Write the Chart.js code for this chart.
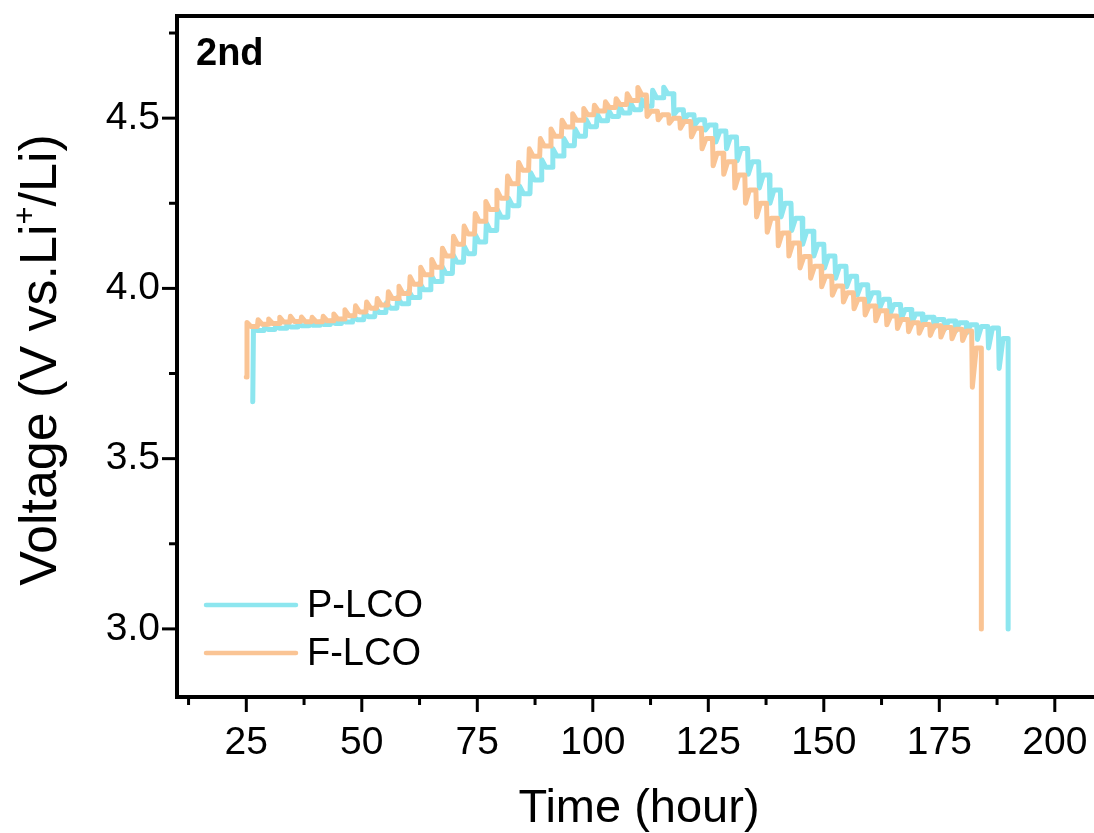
<!DOCTYPE html>
<html>
<head>
<meta charset="utf-8">
<script src="https://cdn.jsdelivr.net/npm/chart.js@4.4.1/dist/chart.umd.min.js"></script>
<style>
  html, body { margin: 0; padding: 0; background: #fff; overflow: hidden; }
  #wrap { position: relative; width: 1104px; height: 833px; }
</style>
</head>
<body>
<div id="wrap"><canvas id="gittChart"></canvas></div>
<script>
// F-LCO (orange) charge steps: pulse start time, voltage at pulse end, relaxed voltage
const fStart = 3.74;
const fTimesC = [25.0, 27.4, 29.7, 32.1, 34.4, 36.8, 39.1, 41.5, 43.8, 46.2, 48.5, 50.9, 53.2, 55.6, 57.9, 60.3, 62.6, 65.0, 67.3, 69.7, 72.0, 74.4, 76.7, 79.1, 81.4, 83.8, 86.1, 88.5, 90.8, 93.2, 95.5, 97.9, 100.2, 102.6, 104.9, 107.3, 109.6];
const fPeakC = [3.900, 3.908, 3.910, 3.915, 3.918, 3.916, 3.915, 3.918, 3.925, 3.937, 3.949, 3.960, 3.970, 3.990, 4.006, 4.034, 4.062, 4.085, 4.118, 4.153, 4.183, 4.220, 4.255, 4.288, 4.330, 4.370, 4.410, 4.440, 4.468, 4.494, 4.513, 4.528, 4.538, 4.548, 4.557, 4.572, 4.590];
const fRestC = [3.888, 3.895, 3.897, 3.901, 3.903, 3.902, 3.902, 3.905, 3.910, 3.920, 3.931, 3.942, 3.951, 3.970, 3.985, 4.012, 4.040, 4.062, 4.095, 4.130, 4.160, 4.197, 4.232, 4.265, 4.307, 4.347, 4.388, 4.418, 4.447, 4.474, 4.494, 4.510, 4.521, 4.531, 4.540, 4.552, 4.568];
// F-LCO discharge steps
const fTimesD = [111.6, 114.0, 116.4, 118.8, 121.2, 123.5, 125.9, 128.2, 130.6, 132.9, 135.3, 137.6, 140.0, 142.3, 144.7, 147.0, 149.4, 151.7, 154.1, 156.4, 158.8, 161.1, 163.5, 165.8, 168.2, 170.5, 172.9, 175.2, 177.6, 179.9, 182.0];
const fLowD = [4.505, 4.495, 4.485, 4.470, 4.445, 4.410, 4.360, 4.335, 4.295, 4.250, 4.210, 4.165, 4.125, 4.095, 4.060, 4.030, 4.005, 3.980, 3.960, 3.940, 3.922, 3.905, 3.893, 3.882, 3.873, 3.868, 3.862, 3.857, 3.852, 3.847, 3.710];
const fRestD = [4.520, 4.510, 4.500, 4.490, 4.470, 4.440, 4.397, 4.372, 4.333, 4.289, 4.250, 4.206, 4.163, 4.133, 4.094, 4.065, 4.036, 4.007, 3.987, 3.968, 3.948, 3.934, 3.919, 3.909, 3.899, 3.894, 3.890, 3.885, 3.880, 3.875, 3.825];
const fCutoff = [184.1, 3.0];

// P-LCO (cyan)
const pStart = 3.667;
const pTimesC = [26.4, 28.8, 31.2, 33.6, 36.0, 38.4, 40.8, 43.2, 45.6, 48.0, 50.4, 52.8, 55.2, 57.6, 60.0, 62.4, 64.8, 67.2, 69.6, 72.0, 74.4, 76.8, 79.2, 81.6, 84.0, 86.4, 88.8, 91.2, 93.6, 96.0, 98.4, 100.8, 103.2, 105.6, 108.0, 110.4, 112.8, 115.2];
const pPeakC = [3.882, 3.885, 3.889, 3.893, 3.896, 3.898, 3.901, 3.904, 3.909, 3.918, 3.929, 3.943, 3.958, 3.973, 3.992, 4.016, 4.041, 4.065, 4.099, 4.124, 4.158, 4.192, 4.231, 4.265, 4.300, 4.340, 4.378, 4.410, 4.440, 4.468, 4.496, 4.512, 4.525, 4.535, 4.545, 4.555, 4.582, 4.591];
const pRestC = [3.876, 3.879, 3.883, 3.887, 3.890, 3.892, 3.894, 3.897, 3.901, 3.908, 3.917, 3.929, 3.942, 3.955, 3.973, 3.996, 4.020, 4.044, 4.077, 4.102, 4.136, 4.170, 4.209, 4.243, 4.278, 4.318, 4.356, 4.389, 4.419, 4.447, 4.475, 4.492, 4.505, 4.515, 4.525, 4.535, 4.560, 4.572];
const pTimesD = [117.4, 119.6, 121.9, 124.2, 126.5, 128.8, 131.1, 133.5, 135.9, 138.2, 140.6, 142.9, 145.3, 147.7, 150.0, 152.4, 154.8, 157.1, 159.5, 161.9, 164.2, 166.6, 168.9, 171.3, 173.7, 176.0, 178.4, 180.8, 183.1, 185.5, 187.8];
const pLowD = [4.510, 4.495, 4.480, 4.465, 4.430, 4.410, 4.375, 4.335, 4.295, 4.250, 4.210, 4.170, 4.130, 4.095, 4.060, 4.030, 4.005, 3.980, 3.960, 3.940, 3.925, 3.910, 3.900, 3.892, 3.885, 3.880, 3.875, 3.870, 3.850, 3.825, 3.765];
const pRestD = [4.525, 4.510, 4.495, 4.480, 4.462, 4.445, 4.411, 4.372, 4.333, 4.289, 4.250, 4.206, 4.168, 4.130, 4.095, 4.065, 4.036, 4.011, 3.987, 3.968, 3.953, 3.938, 3.925, 3.915, 3.909, 3.904, 3.899, 3.893, 3.888, 3.884, 3.853];
const pCutoff = [189.9, 3.0];

// pulse / relaxation length inside one GITT step (hours)
const pulseH = 0.15;
const relaxH = 1.0;

const xTicks = [25, 50, 75, 100, 125, 150, 175, 200];
const xMinor = [12.5, 37.5, 62.5, 87.5, 112.5, 137.5, 162.5, 187.5];
const yTicks = [3.0, 3.5, 4.0, 4.5];
const yMinor = [3.25, 3.75, 4.25, 4.75];

const FONT = "'Liberation Sans', Arial, sans-serif";
const cyan = 'rgb(141,230,239)';
const orange = 'rgb(250,196,148)';

function buildSeries(start, tC, peakC, restC, tD, lowD, restD, cutoff) {
    const pts = [{ x: tC[0], y: start }];
    let prev = start;
    tC.forEach((t, i) => {
        if (i > 0) pts.push({ x: t, y: prev });
        pts.push({ x: t + pulseH, y: peakC[i] });
        pts.push({ x: t + relaxH, y: restC[i] });
        prev = restC[i];
    });
    tD.forEach((t, i) => {
        pts.push({ x: t, y: prev });
        pts.push({ x: t + pulseH, y: lowD[i] });
        pts.push({ x: t + relaxH, y: restD[i] });
        prev = restD[i];
    });
    pts.push({ x: cutoff[0], y: prev });
    pts.push({ x: cutoff[0], y: cutoff[1] });
    return pts;
}

const frame = {
    id: 'frame',
    afterDraw(chart) {
        const { ctx, chartArea: a, scales: { x, y } } = chart;
        ctx.save();
        ctx.strokeStyle = '#000';
        ctx.lineWidth = 4;
        ctx.strokeRect(a.left, a.top, a.right - a.left, a.bottom - a.top);

        ctx.lineWidth = 3;
        const seg = (x1, y1, x2, y2) => { ctx.beginPath(); ctx.moveTo(x1, y1); ctx.lineTo(x2, y2); ctx.stroke(); };
        xTicks.forEach(v => { const px = x.getPixelForValue(v); seg(px, a.bottom, px, a.bottom + 15); });
        xMinor.forEach(v => { const px = x.getPixelForValue(v); seg(px, a.bottom, px, a.bottom + 8); });
        yTicks.forEach(v => { const py = y.getPixelForValue(v); seg(a.left, py, a.left - 15, py); });
        yMinor.forEach(v => { const py = y.getPixelForValue(v); seg(a.left, py, a.left - 8, py); });

        // panel label
        ctx.fillStyle = '#000';
        ctx.font = 'bold 38px ' + FONT;
        ctx.textAlign = 'left';
        ctx.textBaseline = 'alphabetic';
        ctx.fillText('2nd', 196, 65);

        // legend
        const items = [['P-LCO', cyan, 605], ['F-LCO', orange, 653]];
        ctx.font = '38px ' + FONT;
        ctx.textBaseline = 'middle';
        items.forEach(([label, col, ly]) => {
            ctx.strokeStyle = col;
            ctx.lineWidth = 4.5;
            ctx.lineCap = 'round';
            seg(206, ly, 296, ly);
            ctx.fillStyle = '#000';
            ctx.fillText(label, 307, ly + 2);
        });

        // x title
        ctx.font = '47px ' + FONT;
        ctx.textAlign = 'center';
        ctx.textBaseline = 'alphabetic';
        ctx.fillText('Time (hour)', 639, 822);

        // y title with superscript
        ctx.save();
        ctx.translate(56, 360);
        ctx.rotate(-Math.PI / 2);
        ctx.textAlign = 'left';
        const big = '52px ' + FONT, small = '31px ' + FONT;
        const parts = [['Voltage (V vs.Li', big, 0], ['+', small, -21], ['/Li)', big, 0]];
        let w = 0;
        parts.forEach(([s, f]) => { ctx.font = f; w += ctx.measureText(s).width; });
        let cx = -w / 2;
        parts.forEach(([s, f, dy]) => { ctx.font = f; ctx.fillText(s, cx, dy); cx += ctx.measureText(s).width; });
        ctx.restore();

        ctx.restore();
    }
};

new Chart(document.getElementById('gittChart'), {
    type: 'line',
    data: {
        datasets: [
            {
                label: 'F-LCO',
                data: buildSeries(fStart, fTimesC, fPeakC, fRestC, fTimesD, fLowD, fRestD, fCutoff),
                borderColor: orange,
                borderWidth: 5,
                pointRadius: 0,
                tension: 0,
                borderJoinStyle: 'round',
                borderCapStyle: 'round',
                order: 0
            },
            {
                label: 'P-LCO',
                data: buildSeries(pStart, pTimesC, pPeakC, pRestC, pTimesD, pLowD, pRestD, pCutoff),
                borderColor: cyan,
                borderWidth: 5,
                pointRadius: 0,
                tension: 0,
                borderJoinStyle: 'round',
                borderCapStyle: 'round',
                order: 1
            }
        ]
    },
    options: {
        responsive: true,
        maintainAspectRatio: false,
        animation: false,
        layout: { padding: { top: 16, right: 3, left: 0, bottom: 0 } },
        plugins: { legend: { display: false }, tooltip: { enabled: false } },
        scales: {
            x: {
                type: 'linear',
                min: 10,
                max: 210,
                grid: { display: false, drawTicks: false },
                border: { display: false },
                ticks: { font: { size: 39, family: FONT }, color: '#000', padding: 23, maxRotation: 0, autoSkip: false },
                afterBuildTicks: s => { s.ticks = xTicks.map(v => ({ value: v })); },
                afterFit: s => { s.height = 136; s.paddingLeft = 0; s.paddingRight = 0; }
            },
            y: {
                type: 'linear',
                min: 2.8,
                max: 4.8,
                grid: { display: false, drawTicks: false },
                border: { display: false },
                ticks: { font: { size: 39, family: FONT }, color: '#000', padding: 17, callback: v => v.toFixed(1) },
                afterBuildTicks: s => { s.ticks = yTicks.map(v => ({ value: v })); },
                afterFit: s => { s.width = 177; s.paddingTop = 0; s.paddingBottom = 0; }
            }
        }
    },
    plugins: [frame]
});
</script>
</body>
</html>
